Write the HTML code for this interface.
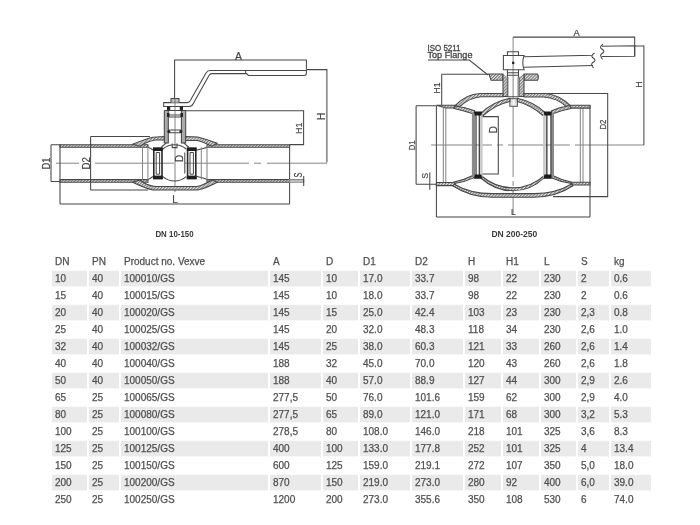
<!DOCTYPE html>
<html><head><meta charset="utf-8"><style>
html,body{margin:0;padding:0;background:#fff;}
#w{position:absolute;left:0;top:0;width:700px;height:525px;filter:blur(0.6px);}
body{width:700px;height:525px;position:relative;overflow:hidden;font-family:"Liberation Sans",sans-serif;}
.g{position:absolute;height:15.6px;background:#e9e9e9;}
.t{position:absolute;height:15.6px;line-height:15.6px;font-size:10px;color:#505050;-webkit-text-stroke:0.25px #505050;white-space:nowrap;}
svg{position:absolute;left:0;top:0;}
</style></head><body><div id="w">
<svg width="700" height="245" viewBox="0 0 700 245">
<defs>
<pattern id="h" patternUnits="userSpaceOnUse" width="2.2" height="4" patternTransform="rotate(45)">
<rect width="2.2" height="4" fill="#e6e6e6"/><rect width="1.1" height="4" fill="#7a7a7a"/>
</pattern>
</defs>
<g fill="none" stroke="#474747" stroke-width="1.05">
<!-- ===== LEFT DRAWING ===== -->
<!-- centerline -->
<path d="M56 163.2H79M95 163.2H174M185 163.2H249M254 163.2H261M267 163.2H327" stroke="#666" stroke-width="0.8"/>
<!-- pipe walls -->
<path d="M60 144.8H148V147.3H60Z M207 144.8H289.6V147.3H207Z" fill="url(#h)"/>
<path d="M60 179.6H148V182.2H60Z M207 179.6H289.6V182.2H207Z" fill="url(#h)"/>
<!-- pipe ends -->
<path d="M60 144.8V204 M289.6 144.8V204"/>
<!-- D1 dim -->
<path d="M51 144.8V181.4 M51 144.8H60 M51 181.4H60"/>
<!-- D2 dim -->
<path d="M90.6 136.4V190 M90.6 136.4H150 M90.6 190H148"/>
<!-- L dim -->
<path d="M60 204H289.6"/>
<!-- H dim -->
<path d="M306.4 69.6H326.9V162.4"/>
<!-- H1 dim -->
<path d="M185.7 110.7H303.6V144.6H289.6"/>
<!-- A dim -->
<path d="M174.6 100V60H306.4V69.6"/>
<!-- S dim -->
<path d="M289.6 179.6H303.7V182.2H289.6Z" fill="#ccc" stroke="#888"/>
<path d="M303.7 176V186"/>
<!-- handle -->
<path d="M163.7 102.6H187Q189 102.6 190 101L206 73Q207.5 70.5 210 70.5H306.4V73.2Q306.4 75.4 304 75.4H248.5L246.5 73.6H212Q210 73.6 209 75.5L193 104Q192 106.4 189 106.4H163.7Z"/>
<path d="M245.7 73.6V70.5"/>
<!-- nut -->
<path d="M171 102.6V98.5H179V102.6" fill="#bbb"/>
<!-- stem housing -->
<path d="M164.3 110.4H185.7V143H181.4V110.4 M164.3 110.4V143H168.3V110.4" fill="#aaa"/>
<path d="M168.3 115H181.4 M168.3 117H181.4 M168.3 130H181.4 M168.3 132.8H181.4"/>
<path d="M175 98V192" stroke="#666" stroke-width="0.8"/>
<g fill="#222" stroke="none">
<rect x="167" y="106.4" width="3.2" height="4"/><rect x="179.8" y="106.4" width="3.2" height="4"/>
<circle cx="168.8" cy="131.4" r="1.5"/><circle cx="180.9" cy="131.4" r="1.5"/>
<rect x="167" y="113" width="2.5" height="4"/><rect x="180.5" y="113" width="2.5" height="4"/>
</g>
<!-- body top -->
<path d="M132.7 144.2Q145 139 153 137.2L164.3 136.6V140H155Q146 142 140 146.2Z" fill="url(#h)"/>
<path d="M185.7 136.4L197.8 137Q207 139.5 217.3 143.2L212 146.2Q203 141.8 197 140.5H185.7Z" fill="url(#h)"/>
<!-- body bottom -->
<path d="M132.7 182.2Q145 188.2 153 190H197.8Q207 187.8 217.3 182.2L212 180Q203 185.4 197 186.5H155Q146 185.2 140 180Z" fill="url(#h)"/>
<!-- inner body lines -->
<path d="M148 147.3Q151 148.5 153 150 M207 147.3Q204 148.5 197 150 M148 179.6Q151 178 153 176.5 M207 179.6Q204 178 197 176.5"/>
<path d="M142.5 147.3V179.6 M147.9 147.3V179.6 M201.3 147.3V179.6 M207 147.3V179.6" stroke="#888"/>
<!-- seats -->
<path d="M153.8 148.3H162V178.5H153.8Z M187.6 148.3H195.8V178.5H187.6Z" stroke="#2a2a2a" stroke-width="1.6"/>
<path d="M156.2 152.5H159.6V174.2H156.2Z M190 152.5H193.4V174.2H190Z" stroke="#444" stroke-width="1"/>
<g fill="#1e1e1e" stroke="none">
<rect x="153" y="147.6" width="9.8" height="3.4"/><rect x="153" y="175.6" width="9.8" height="3.6"/>
<rect x="186.8" y="147.6" width="9.8" height="3.4"/><rect x="186.8" y="175.6" width="9.8" height="3.6"/>
</g>
<!-- ball -->
<path d="M162.8 149A18 18 0 0 1 186.2 149 M162.8 176.6A18 18 0 0 0 186.2 176.6"/>
<path d="M172.2 143.6V147.6H177V143.6"/>
<path d="M166.3 142.8L161 147.5 M183.7 142.8L189 147.5"/>
<!-- D dim -->
<path d="M184.8 152.5V173.5"/>
<!-- labels -->
</g>
<g fill="#444" stroke="#444" stroke-width="0.2" font-family="Liberation Sans, sans-serif" font-size="9">
<text x="235" y="59.5" font-size="10.5">A</text>
<text transform="translate(324.8 120) rotate(-90)" font-size="10">H</text>
<text transform="translate(301.7 134) rotate(-90)">H1</text>
<text transform="translate(50.2 169.4) rotate(-90)" font-size="10.2" textLength="12" lengthAdjust="spacingAndGlyphs">D1</text>
<text transform="translate(90.3 169.4) rotate(-90)" font-size="10.5" textLength="12.4" lengthAdjust="spacingAndGlyphs">D2</text>
<text transform="translate(182.8 162) rotate(-90)" font-size="10">D</text>
<text transform="translate(302.4 177.6) rotate(-90) scale(0.74 1.14)" font-size="10">S</text>
<text x="172.3" y="203.3" font-size="10">L</text>
</g>
<text x="155.4" y="236.8" font-family="Liberation Sans, sans-serif" font-size="8.6" font-weight="bold" fill="#3a3a3a" textLength="38.2" lengthAdjust="spacingAndGlyphs">DN 10-150</text>

<!-- ===== RIGHT DRAWING ===== -->
<g fill="none" stroke="#474747" stroke-width="1.05">
<!-- centerline -->
<path d="M431 145H492M497 145H503M508 145H570M575 145H644" stroke="#666" stroke-width="0.8"/>
<!-- stem axis -->
<path d="M513.1 37V98.7M513.1 106.3V177M513.1 181V186M513.1 190V214" stroke="#666" stroke-width="0.8"/>
<!-- A dim -->
<path d="M513.1 37.1H634.7V56.2"/>
<!-- H dim -->
<path d="M634.7 46H643.9V145"/>
<!-- handle head -->
<path d="M507.4 55.5V51.8H518.5V55.5"/>
<path d="M503.4 55.5H524.1Q521.5 62.5 524.1 69.8H503.4Z"/>
<circle cx="513.2" cy="62.9" r="1.3" fill="#222" stroke="none"/>
<!-- arm -->
<path d="M524.1 56.8L593 55.3M524.1 67.3L593 65.4M594.6 53Q590.5 55.5 592.5 57.5Q596 59.5 594.5 61.5Q590.5 63.5 592 65.5Q592.5 67 593.5 68"/>
<path d="M602 46.3L634.7 45.8V56.2L602 56.4M603 44.2Q599.5 46.5 601 48.5Q605 50.5 603.5 52.5Q599.5 54.5 601 56.5Q601.5 58 602.5 59.5"/>
<!-- neck under head -->
<path d="M507.4 69.8V77.2M518.5 69.8V77.2M507.4 72.8H518.5M507.4 75.3H518.5"/>
<!-- flange -->
<path d="M489 74H503V80.3H491Z M524 74H537.5Q539.3 77 537.5 80.3H524Z" fill="url(#h)"/>
<!-- neck walls -->
<path d="M503 74V96.4H507.4V77 M519 77V96.4H524V74" fill="url(#h)"/>
<path d="M508 77V96M518 77V96" stroke="#888"/>
<!-- stem bottom box -->
<path d="M509.9 98.7V106.3H517.3V98.7Z M507.4 96.8H519" /><path d="M512 99.5V105.5M515.2 99.5V105.5" stroke="#aaa" stroke-width="0.7"/>
<!-- ISO label leader -->
<path d="M427.9 60H469.3L488 75"/>
<!-- H1 dim -->
<path d="M441.7 74.3H489 M441.7 74.3V105.7"/>
<!-- D1 dim -->
<path d="M416.1 105.7V184.3 M416.1 105.7H436.4 M416.1 184.3H436.4"/>
<!-- S dim -->
<path d="M429.8 172.5V189.7"/>
<!-- pipe ends -->
<path d="M436.4 105.7V217 M590 105.2V217"/>
<path d="M443.3 107.9V182.4 M445.8 107.9V182.4 M580.3 108V182.2 M583 108V182.2" stroke="#888"/>
<!-- L dim -->
<path d="M436.4 216.9H590"/>
<!-- D dim -->
<path d="M481 116.6H498.3V174H481"/>
<!-- D2 dim -->
<path d="M547 93.4H607.7V196.6H553"/>
<!-- pipe top bands -->
<path d="M436.4 105.3H455.4L454 107.9H445.8Z M570.3 105.2H590V108.1H570Z" fill="url(#h)"/>
<path d="M436.4 182.4H454.4L456 185.6H436.4Z M571 182.2H590V185H573Z" fill="url(#h)"/>
<!-- outer shell top -->
<path d="M455.4 105.3Q466 94 480 93.4H503V96.8H481Q470 97.5 459 107Z" fill="url(#h)"/>
<path d="M524 93.4H546Q560 95 570.3 105.6L566.5 106.6Q557 98 544 97H524Z" fill="url(#h)"/>
<!-- outer shell bottom -->
<path d="M454.4 184.2Q470 193.6 492 193.6H534Q556 193.6 571.5 184L573 185.8Q556 197.2 534 197.2H492Q470 197.2 453 186Z" fill="url(#h)"/>
<!-- inner curve top to seat -->
<path d="M455.4 106Q465 107 474.7 110.8L474 114Q464 110.5 454 108.4Z" fill="url(#h)"/>
<path d="M570.3 105.6Q560 107 551.6 110.8L552 114Q561 110.5 571 108.6Z" fill="url(#h)"/>
<!-- inner curve bottom from seat -->
<path d="M454.4 183.6Q465 182 473.7 177.9L474 175Q464 180 454 182Z" fill="url(#h)"/>
<path d="M571.5 183.6Q561 182 552 177.9L551.5 175Q561 180 571 182Z" fill="url(#h)"/>
<!-- ball arcs top -->
<path d="M481 113.4Q492 102 509.9 98.3L509.9 101.5Q494 105 483 116Z M545.2 112.6Q534 102 517.3 98.3V101.5Q531 105 543 115.5Z" fill="url(#h)"/>
<!-- ball arcs bottom -->
<path d="M481.4 178.5Q495 190.8 513 190.8Q531 190.8 544.5 177.5L545 174.8Q531 187.8 513 187.8Q495 187.8 481 175.5Z" fill="url(#h)"/>
<!-- seats -->
<g stroke="none">
<rect x="471.9" y="113" width="3.8" height="64" fill="#8a8a8a"/>
<rect x="480.2" y="113" width="2.4" height="64" fill="#c8c8c8"/>
<rect x="475.7" y="113" width="0.9" height="64" fill="#333"/>
<rect x="478.7" y="113" width="1.2" height="64" fill="#333"/>
<rect x="543.1" y="113" width="2.6" height="64" fill="#c8c8c8"/>
<rect x="546.2" y="113" width="1.3" height="64" fill="#333"/>
<rect x="550.5" y="113" width="3.5" height="64" fill="#8a8a8a"/>
<rect x="550.5" y="113" width="0.9" height="64" fill="#333"/>
<path d="M474 111.4H482.2L481.4 115.6H474.8Z M474 178.8H482.2L481.4 174.6H474.8Z" fill="#1a1a1a"/>
<path d="M543.6 111.4H551.8L551 115.6H544.4Z M543.6 178.8H551.8L551 174.6H544.4Z" fill="#1a1a1a"/>
</g>
</g>
<g fill="#444" stroke="#444" stroke-width="0.2" font-family="Liberation Sans, sans-serif" font-size="9">
<text x="427.5" y="50.7" font-size="9.2" textLength="33" lengthAdjust="spacingAndGlyphs" stroke="#444" stroke-width="0.3">ISO 5211</text>
<text x="427.5" y="57.8" font-size="9.2" textLength="45" lengthAdjust="spacingAndGlyphs" stroke="#444" stroke-width="0.3">Top Flange</text>
<text x="573.4" y="35.8" font-size="9.3">A</text>
<text transform="translate(641.6 87.8) rotate(-90)">H</text>
<text transform="translate(439.8 93.4) rotate(-90)" font-size="8.6">H1</text>
<text transform="translate(415 150.2) rotate(-90)" font-size="8.8" textLength="9.8" lengthAdjust="spacingAndGlyphs">D1</text>
<text transform="translate(606.2 129.6) rotate(-90)" font-size="8.8" textLength="9.9" lengthAdjust="spacingAndGlyphs">D2</text>
<text transform="translate(496.7 133.2) rotate(-90)" font-size="10">D</text>
<text transform="translate(428.1 178.8) rotate(-90)" font-size="8.8">S</text>
<text x="511" y="215" font-size="8.5">L</text>
</g>

<text x="491.4" y="236.7" font-family="Liberation Sans, sans-serif" font-size="8.3" font-weight="bold" fill="#3a3a3a" textLength="45.9" lengthAdjust="spacingAndGlyphs">DN 200-250</text>
</svg>

<svg width="700" height="525" style="position:absolute;left:0;top:0"><g fill="#eaeaea"><rect x="52" y="270.8" width="35" height="15.6"/><rect x="89" y="270.8" width="30" height="15.6"/><rect x="121" y="270.8" width="147" height="15.6"/><rect x="270" y="270.8" width="51" height="15.6"/><rect x="323" y="270.8" width="35" height="15.6"/><rect x="360" y="270.8" width="50" height="15.6"/><rect x="412" y="270.8" width="51" height="15.6"/><rect x="465" y="270.8" width="36" height="15.6"/><rect x="503" y="270.8" width="36" height="15.6"/><rect x="541" y="270.8" width="35" height="15.6"/><rect x="578" y="270.8" width="31" height="15.6"/><rect x="611" y="270.8" width="40" height="15.6"/><rect x="52" y="304.8" width="35" height="15.6"/><rect x="89" y="304.8" width="30" height="15.6"/><rect x="121" y="304.8" width="147" height="15.6"/><rect x="270" y="304.8" width="51" height="15.6"/><rect x="323" y="304.8" width="35" height="15.6"/><rect x="360" y="304.8" width="50" height="15.6"/><rect x="412" y="304.8" width="51" height="15.6"/><rect x="465" y="304.8" width="36" height="15.6"/><rect x="503" y="304.8" width="36" height="15.6"/><rect x="541" y="304.8" width="35" height="15.6"/><rect x="578" y="304.8" width="31" height="15.6"/><rect x="611" y="304.8" width="40" height="15.6"/><rect x="52" y="338.8" width="35" height="15.6"/><rect x="89" y="338.8" width="30" height="15.6"/><rect x="121" y="338.8" width="147" height="15.6"/><rect x="270" y="338.8" width="51" height="15.6"/><rect x="323" y="338.8" width="35" height="15.6"/><rect x="360" y="338.8" width="50" height="15.6"/><rect x="412" y="338.8" width="51" height="15.6"/><rect x="465" y="338.8" width="36" height="15.6"/><rect x="503" y="338.8" width="36" height="15.6"/><rect x="541" y="338.8" width="35" height="15.6"/><rect x="578" y="338.8" width="31" height="15.6"/><rect x="611" y="338.8" width="40" height="15.6"/><rect x="52" y="372.8" width="35" height="15.6"/><rect x="89" y="372.8" width="30" height="15.6"/><rect x="121" y="372.8" width="147" height="15.6"/><rect x="270" y="372.8" width="51" height="15.6"/><rect x="323" y="372.8" width="35" height="15.6"/><rect x="360" y="372.8" width="50" height="15.6"/><rect x="412" y="372.8" width="51" height="15.6"/><rect x="465" y="372.8" width="36" height="15.6"/><rect x="503" y="372.8" width="36" height="15.6"/><rect x="541" y="372.8" width="35" height="15.6"/><rect x="578" y="372.8" width="31" height="15.6"/><rect x="611" y="372.8" width="40" height="15.6"/><rect x="52" y="406.8" width="35" height="15.6"/><rect x="89" y="406.8" width="30" height="15.6"/><rect x="121" y="406.8" width="147" height="15.6"/><rect x="270" y="406.8" width="51" height="15.6"/><rect x="323" y="406.8" width="35" height="15.6"/><rect x="360" y="406.8" width="50" height="15.6"/><rect x="412" y="406.8" width="51" height="15.6"/><rect x="465" y="406.8" width="36" height="15.6"/><rect x="503" y="406.8" width="36" height="15.6"/><rect x="541" y="406.8" width="35" height="15.6"/><rect x="578" y="406.8" width="31" height="15.6"/><rect x="611" y="406.8" width="40" height="15.6"/><rect x="52" y="440.8" width="35" height="15.6"/><rect x="89" y="440.8" width="30" height="15.6"/><rect x="121" y="440.8" width="147" height="15.6"/><rect x="270" y="440.8" width="51" height="15.6"/><rect x="323" y="440.8" width="35" height="15.6"/><rect x="360" y="440.8" width="50" height="15.6"/><rect x="412" y="440.8" width="51" height="15.6"/><rect x="465" y="440.8" width="36" height="15.6"/><rect x="503" y="440.8" width="36" height="15.6"/><rect x="541" y="440.8" width="35" height="15.6"/><rect x="578" y="440.8" width="31" height="15.6"/><rect x="611" y="440.8" width="40" height="15.6"/><rect x="52" y="474.8" width="35" height="15.6"/><rect x="89" y="474.8" width="30" height="15.6"/><rect x="121" y="474.8" width="147" height="15.6"/><rect x="270" y="474.8" width="51" height="15.6"/><rect x="323" y="474.8" width="35" height="15.6"/><rect x="360" y="474.8" width="50" height="15.6"/><rect x="412" y="474.8" width="51" height="15.6"/><rect x="465" y="474.8" width="36" height="15.6"/><rect x="503" y="474.8" width="36" height="15.6"/><rect x="541" y="474.8" width="35" height="15.6"/><rect x="578" y="474.8" width="31" height="15.6"/><rect x="611" y="474.8" width="40" height="15.6"/></g></svg>
<div class="t" style="left:55px;top:254.3px">DN</div><div class="t" style="left:92px;top:254.3px">PN</div><div class="t" style="left:124px;top:254.3px">Product no. Vexve</div><div class="t" style="left:273px;top:254.3px">A</div><div class="t" style="left:326px;top:254.3px">D</div><div class="t" style="left:363px;top:254.3px">D1</div><div class="t" style="left:415px;top:254.3px">D2</div><div class="t" style="left:468px;top:254.3px">H</div><div class="t" style="left:506px;top:254.3px">H1</div><div class="t" style="left:544px;top:254.3px">L</div><div class="t" style="left:581px;top:254.3px">S</div><div class="t" style="left:614px;top:254.3px">kg</div><div class="t" style="left:55px;top:271.3px">10</div><div class="t" style="left:92px;top:271.3px">40</div><div class="t" style="left:124px;top:271.3px">100010/GS</div><div class="t" style="left:273px;top:271.3px">145</div><div class="t" style="left:326px;top:271.3px">10</div><div class="t" style="left:363px;top:271.3px">17.0</div><div class="t" style="left:415px;top:271.3px">33.7</div><div class="t" style="left:468px;top:271.3px">98</div><div class="t" style="left:506px;top:271.3px">22</div><div class="t" style="left:544px;top:271.3px">230</div><div class="t" style="left:581px;top:271.3px">2</div><div class="t" style="left:614px;top:271.3px">0.6</div><div class="t" style="left:55px;top:288.3px">15</div><div class="t" style="left:92px;top:288.3px">40</div><div class="t" style="left:124px;top:288.3px">100015/GS</div><div class="t" style="left:273px;top:288.3px">145</div><div class="t" style="left:326px;top:288.3px">10</div><div class="t" style="left:363px;top:288.3px">18.0</div><div class="t" style="left:415px;top:288.3px">33.7</div><div class="t" style="left:468px;top:288.3px">98</div><div class="t" style="left:506px;top:288.3px">22</div><div class="t" style="left:544px;top:288.3px">230</div><div class="t" style="left:581px;top:288.3px">2</div><div class="t" style="left:614px;top:288.3px">0.6</div><div class="t" style="left:55px;top:305.3px">20</div><div class="t" style="left:92px;top:305.3px">40</div><div class="t" style="left:124px;top:305.3px">100020/GS</div><div class="t" style="left:273px;top:305.3px">145</div><div class="t" style="left:326px;top:305.3px">15</div><div class="t" style="left:363px;top:305.3px">25.0</div><div class="t" style="left:415px;top:305.3px">42.4</div><div class="t" style="left:468px;top:305.3px">103</div><div class="t" style="left:506px;top:305.3px">23</div><div class="t" style="left:544px;top:305.3px">230</div><div class="t" style="left:581px;top:305.3px">2,3</div><div class="t" style="left:614px;top:305.3px">0.8</div><div class="t" style="left:55px;top:322.3px">25</div><div class="t" style="left:92px;top:322.3px">40</div><div class="t" style="left:124px;top:322.3px">100025/GS</div><div class="t" style="left:273px;top:322.3px">145</div><div class="t" style="left:326px;top:322.3px">20</div><div class="t" style="left:363px;top:322.3px">32.0</div><div class="t" style="left:415px;top:322.3px">48.3</div><div class="t" style="left:468px;top:322.3px">118</div><div class="t" style="left:506px;top:322.3px">34</div><div class="t" style="left:544px;top:322.3px">230</div><div class="t" style="left:581px;top:322.3px">2,6</div><div class="t" style="left:614px;top:322.3px">1.0</div><div class="t" style="left:55px;top:339.3px">32</div><div class="t" style="left:92px;top:339.3px">40</div><div class="t" style="left:124px;top:339.3px">100032/GS</div><div class="t" style="left:273px;top:339.3px">145</div><div class="t" style="left:326px;top:339.3px">25</div><div class="t" style="left:363px;top:339.3px">38.0</div><div class="t" style="left:415px;top:339.3px">60.3</div><div class="t" style="left:468px;top:339.3px">121</div><div class="t" style="left:506px;top:339.3px">33</div><div class="t" style="left:544px;top:339.3px">260</div><div class="t" style="left:581px;top:339.3px">2,6</div><div class="t" style="left:614px;top:339.3px">1.4</div><div class="t" style="left:55px;top:356.3px">40</div><div class="t" style="left:92px;top:356.3px">40</div><div class="t" style="left:124px;top:356.3px">100040/GS</div><div class="t" style="left:273px;top:356.3px">188</div><div class="t" style="left:326px;top:356.3px">32</div><div class="t" style="left:363px;top:356.3px">45.0</div><div class="t" style="left:415px;top:356.3px">70.0</div><div class="t" style="left:468px;top:356.3px">120</div><div class="t" style="left:506px;top:356.3px">43</div><div class="t" style="left:544px;top:356.3px">260</div><div class="t" style="left:581px;top:356.3px">2,6</div><div class="t" style="left:614px;top:356.3px">1.8</div><div class="t" style="left:55px;top:373.3px">50</div><div class="t" style="left:92px;top:373.3px">40</div><div class="t" style="left:124px;top:373.3px">100050/GS</div><div class="t" style="left:273px;top:373.3px">188</div><div class="t" style="left:326px;top:373.3px">40</div><div class="t" style="left:363px;top:373.3px">57.0</div><div class="t" style="left:415px;top:373.3px">88.9</div><div class="t" style="left:468px;top:373.3px">127</div><div class="t" style="left:506px;top:373.3px">44</div><div class="t" style="left:544px;top:373.3px">300</div><div class="t" style="left:581px;top:373.3px">2,9</div><div class="t" style="left:614px;top:373.3px">2.6</div><div class="t" style="left:55px;top:390.3px">65</div><div class="t" style="left:92px;top:390.3px">25</div><div class="t" style="left:124px;top:390.3px">100065/GS</div><div class="t" style="left:273px;top:390.3px">277,5</div><div class="t" style="left:326px;top:390.3px">50</div><div class="t" style="left:363px;top:390.3px">76.0</div><div class="t" style="left:415px;top:390.3px">101.6</div><div class="t" style="left:468px;top:390.3px">159</div><div class="t" style="left:506px;top:390.3px">62</div><div class="t" style="left:544px;top:390.3px">300</div><div class="t" style="left:581px;top:390.3px">2,9</div><div class="t" style="left:614px;top:390.3px">4.0</div><div class="t" style="left:55px;top:407.3px">80</div><div class="t" style="left:92px;top:407.3px">25</div><div class="t" style="left:124px;top:407.3px">100080/GS</div><div class="t" style="left:273px;top:407.3px">277,5</div><div class="t" style="left:326px;top:407.3px">65</div><div class="t" style="left:363px;top:407.3px">89.0</div><div class="t" style="left:415px;top:407.3px">121.0</div><div class="t" style="left:468px;top:407.3px">171</div><div class="t" style="left:506px;top:407.3px">68</div><div class="t" style="left:544px;top:407.3px">300</div><div class="t" style="left:581px;top:407.3px">3,2</div><div class="t" style="left:614px;top:407.3px">5.3</div><div class="t" style="left:55px;top:424.3px">100</div><div class="t" style="left:92px;top:424.3px">25</div><div class="t" style="left:124px;top:424.3px">100100/GS</div><div class="t" style="left:273px;top:424.3px">278,5</div><div class="t" style="left:326px;top:424.3px">80</div><div class="t" style="left:363px;top:424.3px">108.0</div><div class="t" style="left:415px;top:424.3px">146.0</div><div class="t" style="left:468px;top:424.3px">218</div><div class="t" style="left:506px;top:424.3px">101</div><div class="t" style="left:544px;top:424.3px">325</div><div class="t" style="left:581px;top:424.3px">3,6</div><div class="t" style="left:614px;top:424.3px">8.3</div><div class="t" style="left:55px;top:441.3px">125</div><div class="t" style="left:92px;top:441.3px">25</div><div class="t" style="left:124px;top:441.3px">100125/GS</div><div class="t" style="left:273px;top:441.3px">400</div><div class="t" style="left:326px;top:441.3px">100</div><div class="t" style="left:363px;top:441.3px">133.0</div><div class="t" style="left:415px;top:441.3px">177.8</div><div class="t" style="left:468px;top:441.3px">252</div><div class="t" style="left:506px;top:441.3px">101</div><div class="t" style="left:544px;top:441.3px">325</div><div class="t" style="left:581px;top:441.3px">4</div><div class="t" style="left:614px;top:441.3px">13.4</div><div class="t" style="left:55px;top:458.3px">150</div><div class="t" style="left:92px;top:458.3px">25</div><div class="t" style="left:124px;top:458.3px">100150/GS</div><div class="t" style="left:273px;top:458.3px">600</div><div class="t" style="left:326px;top:458.3px">125</div><div class="t" style="left:363px;top:458.3px">159.0</div><div class="t" style="left:415px;top:458.3px">219.1</div><div class="t" style="left:468px;top:458.3px">272</div><div class="t" style="left:506px;top:458.3px">107</div><div class="t" style="left:544px;top:458.3px">350</div><div class="t" style="left:581px;top:458.3px">5,0</div><div class="t" style="left:614px;top:458.3px">18.0</div><div class="t" style="left:55px;top:475.3px">200</div><div class="t" style="left:92px;top:475.3px">25</div><div class="t" style="left:124px;top:475.3px">100200/GS</div><div class="t" style="left:273px;top:475.3px">870</div><div class="t" style="left:326px;top:475.3px">150</div><div class="t" style="left:363px;top:475.3px">219.0</div><div class="t" style="left:415px;top:475.3px">273.0</div><div class="t" style="left:468px;top:475.3px">280</div><div class="t" style="left:506px;top:475.3px">92</div><div class="t" style="left:544px;top:475.3px">400</div><div class="t" style="left:581px;top:475.3px">6,0</div><div class="t" style="left:614px;top:475.3px">39.0</div><div class="t" style="left:55px;top:492.3px">250</div><div class="t" style="left:92px;top:492.3px">25</div><div class="t" style="left:124px;top:492.3px">100250/GS</div><div class="t" style="left:273px;top:492.3px">1200</div><div class="t" style="left:326px;top:492.3px">200</div><div class="t" style="left:363px;top:492.3px">273.0</div><div class="t" style="left:415px;top:492.3px">355.6</div><div class="t" style="left:468px;top:492.3px">350</div><div class="t" style="left:506px;top:492.3px">108</div><div class="t" style="left:544px;top:492.3px">530</div><div class="t" style="left:581px;top:492.3px">6</div><div class="t" style="left:614px;top:492.3px">74.0</div>
</div></body></html>
